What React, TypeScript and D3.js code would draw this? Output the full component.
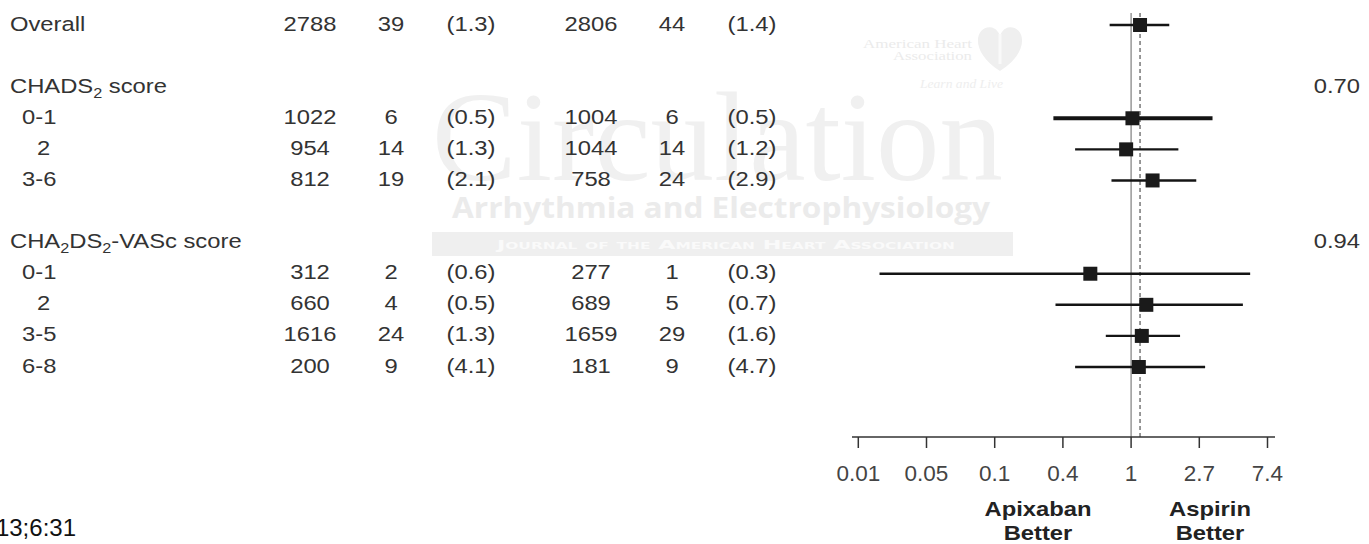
import React from "react";
import * as d3 from "d3";

// Subgroup rows (Overall, CHADS2 strata, CHA2DS2-VASc strata)
const subgroups = ["Overall", "0-1", "2", "3-6", "0-1", "2", "3-5", "6-8"];
const rowSlot = [0, 3, 4, 5, 8, 9, 10, 11];

// Apixaban arm: patients, events, rate (%/yr)
const apixabanN = [2788, 1022, 954, 812, 312, 660, 1616, 200];
const apixabanEvents = [39, 6, 14, 19, 2, 4, 24, 9];
const apixabanRate = ["1.3", "0.5", "1.3", "2.1", "0.6", "0.5", "1.3", "4.1"];

// Aspirin arm: patients, events, rate (%/yr)
const aspirinN = [2806, 1004, 1044, 758, 277, 689, 1659, 181];
const aspirinEvents = [44, 6, 14, 24, 1, 5, 29, 9];
const aspirinRate = ["1.4", "0.5", "1.2", "2.9", "0.3", "0.7", "1.6", "4.7"];

// Hazard ratios with 95% confidence limits
const hazardRatio = [1.14, 1.02, 0.93, 1.37, 0.55, 1.25, 1.17, 1.12];
const ciLower = [0.73, 0.32, 0.44, 0.75, 0.025, 0.33, 0.69, 0.44];
const ciUpper = [1.75, 3.3, 2.0, 2.6, 5.73, 5.15, 2.05, 2.96];

// Group headers and interaction p-values
const headerSlot = [2, 7];
const pInteraction = ["0.70", "0.94"];

// Axis ticks: powers of e, labelled with rounded values
const tickExponents = [-4, -3, -2, -1, 0, 1, 2];
const tickLabels = ["0.01", "0.05", "0.1", "0.4", "1", "2.7", "7.4"];

const W = 1369;
const H = 544;
const TXT = "#333";
const FONT = "Liberation Sans, Arial, sans-serif";
const SX = 1.16; // horizontal widening of the table type

const x = d3
  .scaleLog()
  .base(Math.E)
  .domain([Math.exp(-4), Math.exp(2)])
  .range([858.3, 1267.5]);

const y = d3.scaleLinear().domain([0, 11]).range([25, 367]);

const colApixN = 310;
const colApixE = 391;
const colApixR = 471;
const colAspN = 591;
const colAspE = 672;
const colAspR = 752;

const axisY = 437;
const topY = 13;
const heavyRows = new Set([1]);

function Cell({
  x0,
  y0,
  anchor = "middle",
  children,
  size = 20.5,
  weight = "normal",
  fill = TXT,
}: any) {
  return (
    <text
      transform={`translate(${x0},${y0}) scale(${SX},1)`}
      textAnchor={anchor}
      fontSize={size}
      fontWeight={weight}
      fill={fill}
      fontFamily={FONT}
    >
      {children}
    </text>
  );
}

function heartPath(cx: number, cy: number, s: number) {
  const p = d3.path();
  p.moveTo(cx, cy + s);
  p.bezierCurveTo(cx - s * 1.3, cy + s * 0.2, cx - s * 1.1, cy - s * 0.9, cx - s * 0.45, cy - s * 0.9);
  p.bezierCurveTo(cx - s * 0.15, cy - s * 0.9, cx, cy - s * 0.6, cx, cy - s * 0.45);
  p.bezierCurveTo(cx, cy - s * 0.6, cx + s * 0.15, cy - s * 0.9, cx + s * 0.45, cy - s * 0.9);
  p.bezierCurveTo(cx + s * 1.1, cy - s * 0.9, cx + s * 1.3, cy + s * 0.2, cx, cy + s);
  p.closePath();
  return p.toString();
}

export default function App() {
  const box = 14;
  const subDy = 5;
  return (
    <svg
      width={W}
      height={H}
      style={{ position: "absolute", left: 0, top: 0, background: "#fff" }}
    >
      <rect width={W} height={H} fill="#fff" />

      {/* journal watermark */}
      <g>
        <text
          x={432}
          y={180}
          fontFamily="Liberation Serif, Times New Roman, serif"
          fontSize={127}
          fill="#f0f0f0"
          textLength={571}
          lengthAdjust="spacingAndGlyphs"
        >
          Circulation
        </text>
        <text
          x={452}
          y={218}
          fontFamily="Open Sans, DejaVu Sans, sans-serif"
          fontWeight="bold"
          fontSize={29}
          fill="#ebebeb"
          textLength={538}
          lengthAdjust="spacingAndGlyphs"
        >
          Arrhythmia and Electrophysiology
        </text>
        <rect x={432} y={232} width={581} height={24} fill="#efefef" />
        <text
          x={497}
          y={249}
          fontFamily="DejaVu Sans, sans-serif"
          fontWeight="bold"
          fontSize={13}
          fill="#fafafa"
          style={{ fontVariant: "small-caps" }}
          textLength={458}
          lengthAdjust="spacingAndGlyphs"
        >
          Journal of the American Heart Association
        </text>
        <text x={863} y={48} fontFamily="Liberation Serif, serif" fontSize={13} fill="#ebebeb" textLength={109} lengthAdjust="spacingAndGlyphs">
          American Heart
        </text>
        <text x={893} y={60} fontFamily="Liberation Serif, serif" fontSize={13} fill="#ebebeb" textLength={79} lengthAdjust="spacingAndGlyphs">
          Association
        </text>
        <text x={920} y={88} fontFamily="Liberation Serif, serif" fontStyle="italic" fontSize={12} fill="#eeeeee" textLength={83} lengthAdjust="spacingAndGlyphs">
          Learn and Live
        </text>
        <path d={heartPath(1000, 48, 23)} fill="#efefef" />
        <line x1={1000} x2={1000} y1={34} y2={64} stroke="#f9f9f9" strokeWidth={3} />
      </g>

      {/* left table */}
      {subgroups.map((label, i) => {
        const yy = y(rowSlot[i]) + 5.5;
        const indentX = i === 0 ? 10 : label.length === 1 ? 37 : 22;
        return (
          <g key={`row-${i}`}>
            <Cell x0={indentX} y0={yy} anchor="start">
              {label}
            </Cell>
            <Cell x0={colApixN} y0={yy}>{apixabanN[i]}</Cell>
            <Cell x0={colApixE} y0={yy}>{apixabanEvents[i]}</Cell>
            <Cell x0={colApixR} y0={yy}>{`(${apixabanRate[i]})`}</Cell>
            <Cell x0={colAspN} y0={yy}>{aspirinN[i]}</Cell>
            <Cell x0={colAspE} y0={yy}>{aspirinEvents[i]}</Cell>
            <Cell x0={colAspR} y0={yy}>{`(${aspirinRate[i]})`}</Cell>
          </g>
        );
      })}

      {/* group headers */}
      <Cell x0={10} y0={y(headerSlot[0]) + 5.5} anchor="start">
        <tspan>CHADS</tspan>
        <tspan fontSize={14} dy={subDy}>2</tspan>
        <tspan dy={-subDy}> score</tspan>
      </Cell>
      <Cell x0={10} y0={y(headerSlot[1]) + 5.5} anchor="start">
        <tspan>CHA</tspan>
        <tspan fontSize={14} dy={subDy}>2</tspan>
        <tspan dy={-subDy}>DS</tspan>
        <tspan fontSize={14} dy={subDy}>2</tspan>
        <tspan dy={-subDy}>-VASc score</tspan>
      </Cell>
      {pInteraction.map((p, k) => (
        <Cell key={`p-${k}`} x0={1360} y0={y(headerSlot[k]) + 5.5} anchor="end">
          {p}
        </Cell>
      ))}

      {/* reference lines */}
      <line x1={x(1)} x2={x(1)} y1={topY} y2={axisY} stroke="#888" strokeWidth={1.3} />
      <line
        x1={x(hazardRatio[0])}
        x2={x(hazardRatio[0])}
        y1={topY}
        y2={axisY}
        stroke="#555"
        strokeWidth={1.2}
        strokeDasharray="4,3"
      />

      {/* confidence intervals and point estimates */}
      {subgroups.map((_, i) => {
        const yy = y(rowSlot[i]);
        return (
          <g key={`ci-${i}`}>
            <line
              x1={x(ciLower[i])}
              x2={x(ciUpper[i])}
              y1={yy}
              y2={yy}
              stroke="#141414"
              strokeWidth={heavyRows.has(i) ? 3.8 : 2.4}
            />
            <rect
              x={x(hazardRatio[i]) - box / 2}
              y={yy - box / 2}
              width={box}
              height={box}
              fill="#1a1a1a"
            />
          </g>
        );
      })}

      {/* axis */}
      <line x1={852} x2={1275} y1={axisY} y2={axisY} stroke="#333" strokeWidth={1.5} />
      {tickExponents.map((e, k) => {
        const tx = x(Math.exp(e));
        return (
          <g key={`t-${k}`}>
            <line x1={tx} x2={tx} y1={axisY} y2={axisY + 11} stroke="#333" strokeWidth={1.5} />
            <text
              x={tx}
              y={481}
              textAnchor="middle"
              fontSize={22.5}
              fill="#444"
              fontFamily={FONT}
            >
              {tickLabels[k]}
            </text>
          </g>
        );
      })}

      <Cell x0={1038} y0={516} size={20.5} weight="bold" fill="#222">Apixaban</Cell>
      <Cell x0={1038} y0={540} size={20.5} weight="bold" fill="#222">Better</Cell>
      <Cell x0={1210} y0={516} size={20.5} weight="bold" fill="#222">Aspirin</Cell>
      <Cell x0={1210} y0={540} size={20.5} weight="bold" fill="#222">Better</Cell>

      {/* citation fragment */}
      <text x={76} y={536} textAnchor="end" fontSize={24} fill="#111" fontFamily={FONT}>
        13;6:31
      </text>
    </svg>
  );
}
